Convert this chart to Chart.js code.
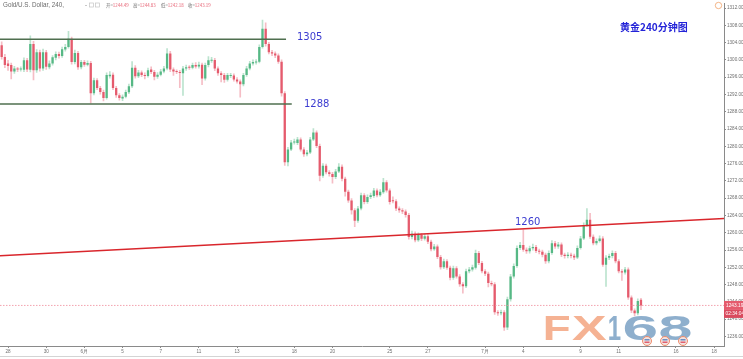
<!DOCTYPE html>
<html>
<head>
<meta charset="utf-8">
<title>Gold 240</title>
<script src="https://cdn.jsdelivr.net/npm/chart.js@4.4.0/dist/chart.umd.min.js"></script>
<style>
    body { margin: 0; background: #fff; }
    #wrap { width: 743px; height: 359px; }
</style>
</head>
<body>
<div id="wrap"><canvas id="gold-chart" width="743" height="359"></canvas></div>
<script>
// 4h candles, 28 May - 12 Jul 2018
const opens = [
    1303.4,1300.7,1299.2,1298.8,1297.3,1297.9,1297.8,1297.7,1299.9,1297.7,
    1303.7,1297.6,1301.8,1298.0,1301.8,1298.3,1299.2,1300.5,1301.4,1300.9,
    1302.4,1303.0,1304.9,1299.5,1301.6,1298.3,1299.5,1298.9,1299.3,1292.3,
    1295.3,1293.5,1292.6,1291.2,1296.2,1296.6,1293.5,1291.8,1291.1,1291.5,
    1292.5,1293.9,1298.2,1296.2,1297.1,1296.5,1296.3,1297.8,1297.2,1296.1,
    1296.6,1297.3,1298.0,1301.5,1297.8,1297.3,1297.2,1296.9,1298.0,1298.3,
    1298.2,1298.8,1298.5,1298.9,1295.7,1298.8,1299.8,1300.0,1298.0,1296.9,
    1296.5,1295.4,1296.3,1296.4,1295.5,1295.0,1294.4,1296.5,1298.0,1299.2,
    1299.4,1299.6,1303.0,1307.2,1303.7,1301.8,1301.5,1301.0,1299.6,1292.3,
    1276.3,1279.3,1280.9,1280.8,1281.6,1279.3,1278.2,1278.6,1281.6,1283.2,
    1280.1,1273.2,1275.5,1274.0,1273.6,1272.9,1274.2,1275.3,1272.5,1269.5,
    1267.5,1265.2,1262.8,1265.6,1268.7,1267.1,1268.3,1268.5,1269.8,1268.7,
    1269.4,1271.7,1269.8,1267.5,1267.3,1265.6,1265.2,1264.9,1264.1,1259.0,
    1259.8,1258.3,1259.5,1258.6,1259.2,1257.9,1256.2,1256.8,1254.4,1252.0,
    1253.4,1251.9,1249.6,1251.8,1249.9,1248.1,1247.6,1251.1,1251.5,1251.9,
    1255.3,1253.0,1251.1,1250.5,1248.4,1248.1,1241.6,1241.4,1241.6,1238.1,
    1244.6,1249.9,1252.3,1256.5,1257.2,1256.1,1255.7,1256.4,1256.7,1255.8,
    1255.6,1254.9,1253.4,1255.3,1257.6,1256.8,1257.3,1254.9,1254.6,1254.9,
    1254.7,1254.3,1256.5,1258.7,1261.8,1263.0,1259.1,1257.6,1258.1,1258.7,
    1252.6,1254.2,1254.6,1255.3,1253.4,1251.1,1250.8,1251.5,1245.0,1242.0,
    1241.4,1244.49
];
const closes = [
    1300.7,1298.8,1298.6,1297.3,1298.0,1297.8,1297.9,1299.9,1297.8,1303.7,
    1297.6,1301.8,1298.0,1301.8,1298.4,1299.2,1300.6,1301.4,1300.9,1302.5,
    1303.0,1304.9,1299.5,1301.6,1298.3,1299.5,1298.9,1299.3,1292.3,1295.3,
    1293.5,1292.6,1291.2,1296.5,1296.6,1293.5,1291.8,1291.2,1291.5,1292.6,
    1293.9,1298.2,1296.2,1297.1,1296.5,1296.3,1297.6,1297.2,1296.1,1296.6,
    1297.3,1298.0,1301.5,1297.8,1297.3,1297.2,1297.0,1298.0,1298.3,1298.2,
    1298.8,1298.5,1298.9,1295.7,1298.8,1299.9,1300.0,1298.0,1296.9,1296.5,
    1295.4,1296.5,1296.5,1295.5,1295.0,1294.4,1296.5,1298.0,1299.2,1299.5,
    1299.6,1303.0,1307.2,1303.7,1301.8,1301.5,1301.0,1299.6,1292.3,1276.3,
    1279.3,1280.9,1281.1,1281.6,1279.3,1278.2,1278.6,1281.6,1283.2,1280.1,
    1273.2,1275.5,1274.0,1273.6,1272.9,1274.2,1275.3,1272.5,1269.5,1267.5,
    1265.2,1262.8,1265.6,1268.7,1267.1,1268.3,1268.7,1269.8,1268.7,1269.5,
    1271.7,1269.8,1267.1,1267.3,1265.6,1265.2,1264.9,1264.1,1259.0,1259.8,
    1258.3,1259.5,1258.6,1259.2,1257.9,1256.2,1256.8,1254.4,1252.0,1253.4,
    1251.9,1249.6,1251.8,1249.9,1248.1,1247.6,1251.1,1251.5,1252.0,1255.3,
    1253.0,1251.1,1250.5,1248.4,1248.1,1241.6,1241.4,1241.6,1238.1,1244.6,
    1249.9,1252.3,1256.5,1257.2,1256.1,1255.7,1256.4,1256.7,1255.8,1255.6,
    1254.9,1253.4,1255.3,1257.6,1256.8,1257.3,1254.9,1254.6,1254.9,1254.7,
    1254.3,1256.5,1258.7,1261.8,1263.0,1259.1,1257.6,1258.1,1258.7,1252.6,
    1254.2,1254.6,1255.3,1253.4,1251.1,1250.8,1251.5,1245.0,1242.0,1241.4,
    1244.2,1243.19
];
const highs = [
    1304.2,1301.3,1299.9,1299.3,1298.5,1298.3,1298.4,1300.5,1300.4,1305.6,
    1304.3,1302.4,1302.3,1302.5,1302.2,1299.8,1301.0,1301.9,1301.8,1303.0,
    1303.6,1306.6,1305.3,1302.3,1302.0,1299.9,1299.9,1299.8,1299.7,1295.8,
    1295.7,1293.9,1293.0,1297.0,1297.3,1297.0,1293.9,1292.2,1291.9,1293.0,
    1294.4,1299.6,1298.7,1297.6,1297.5,1297.0,1298.1,1298.4,1297.6,1297.1,
    1297.8,1298.5,1302.6,1302.0,1298.2,1297.7,1297.6,1298.5,1298.8,1298.7,
    1299.3,1299.4,1299.5,1299.3,1299.3,1300.8,1300.6,1300.4,1298.4,1297.3,
    1296.9,1296.9,1296.9,1296.8,1295.9,1295.4,1296.9,1298.5,1299.7,1300.0,
    1300.1,1303.5,1309.2,1308.6,1304.1,1302.2,1301.9,1301.4,1300.0,1292.7,
    1279.8,1281.4,1281.7,1282.1,1282.0,1279.7,1279.1,1282.1,1284.1,1283.6,
    1280.5,1276.0,1275.9,1274.4,1274.0,1274.7,1276.0,1275.7,1272.9,1269.9,
    1267.9,1265.6,1266.1,1269.2,1269.1,1268.8,1269.2,1270.3,1270.2,1270.0,
    1272.6,1272.1,1270.2,1268.3,1267.7,1266.0,1265.6,1265.3,1264.5,1260.4,
    1260.2,1260.0,1259.9,1259.7,1259.6,1258.3,1257.3,1257.2,1254.8,1253.9,
    1253.8,1252.3,1252.3,1252.2,1250.3,1248.5,1251.6,1252.0,1252.5,1256.0,
    1255.7,1253.4,1251.5,1250.9,1248.8,1248.5,1242.0,1242.1,1242.0,1245.1,
    1250.4,1252.8,1257.0,1257.8,1260.7,1256.5,1256.9,1257.4,1257.1,1256.2,
    1256.0,1255.3,1255.8,1258.2,1258.0,1257.8,1257.7,1255.3,1255.4,1255.3,
    1255.1,1257.0,1259.2,1262.3,1265.6,1264.5,1259.5,1258.6,1259.3,1259.1,
    1254.7,1255.1,1255.8,1255.7,1253.8,1251.5,1252.0,1251.9,1245.4,1242.4,
    1244.7,1244.83
];
const lows = [
    1300.2,1298.2,1297.6,1295.6,1296.9,1297.3,1297.4,1297.3,1297.3,1297.2,
    1295.4,1297.1,1297.4,1297.6,1297.8,1297.9,1298.8,1300.0,1300.4,1300.6,
    1302.0,1302.7,1299.0,1299.1,1297.8,1297.9,1298.5,1298.6,1290.0,1291.9,
    1293.1,1292.1,1290.5,1290.9,1295.8,1293.1,1291.3,1290.7,1290.6,1291.2,
    1292.2,1293.6,1295.8,1295.9,1296.1,1295.6,1296.0,1296.8,1295.4,1295.7,
    1296.3,1297.0,1297.7,1297.3,1296.4,1296.8,1293.6,1291.8,1297.6,1297.8,
    1297.9,1298.1,1298.1,1294.3,1295.3,1298.4,1299.4,1297.5,1296.4,1294.9,
    1294.8,1295.1,1295.9,1295.1,1294.6,1291.4,1294.0,1296.2,1297.7,1298.8,
    1299.0,1299.3,1302.7,1303.2,1301.4,1301.0,1300.5,1299.2,1291.6,1275.6,
    1275.5,1279.0,1280.5,1280.4,1278.9,1277.7,1277.8,1278.3,1281.3,1279.7,
    1272.0,1272.8,1273.6,1273.1,1271.5,1272.5,1273.9,1272.0,1268.5,1267.0,
    1264.3,1261.4,1262.4,1265.3,1266.7,1266.8,1267.9,1268.2,1268.3,1268.4,
    1269.1,1269.4,1266.6,1266.9,1265.1,1264.7,1264.4,1263.6,1258.5,1258.6,
    1257.9,1258.0,1258.2,1258.3,1257.5,1255.8,1255.9,1254.0,1251.6,1251.7,
    1251.5,1249.1,1249.2,1249.5,1247.6,1246.0,1247.3,1250.7,1251.1,1251.6,
    1252.6,1250.7,1250.1,1247.5,1247.7,1241.1,1240.9,1241.0,1237.4,1237.6,
    1244.2,1249.5,1252.0,1256.1,1255.7,1255.2,1255.3,1256.0,1255.4,1255.1,
    1254.4,1252.9,1253.0,1255.0,1256.4,1256.4,1254.5,1254.1,1254.2,1254.2,
    1253.8,1254.0,1256.2,1258.4,1261.5,1258.7,1257.2,1257.2,1257.8,1252.2,
    1247.6,1253.8,1254.2,1253.0,1250.7,1249.0,1250.4,1244.6,1241.5,1240.8,
    1241.0,1242.18
];

// date labels on the time axis and the bar they sit on
const xTickLabels = ["28", "30", "6月", "5", "7", "11", "13", "18", "20", "25", "27", "7月", "4", "9", "11", "16", "18"];
const xTickBars = [2, 14, 26, 38, 50, 62, 74, 92, 104, 122, 134, 152, 164, 182, 194, 212, 224];
const yTicks = [1236, 1240, 1244, 1248, 1252, 1256, 1260, 1264, 1268, 1272, 1276, 1280, 1284, 1288, 1292, 1296, 1300, 1304, 1308, 1312];

// drawn lines: range box, trend line, last price
const boxLevels = [1304.8, 1289.8];
const boxEnds = [89.4, 91.2];
const trendX = [-0.53, 227.1];
const trendY = [1254.7, 1263.3];
const lastPrice = 1243.19;

const UP = "#56b885";
const DOWN = "#e55b6d";
const UP_WICK = "rgba(86, 184, 133, 0.4)";
const DOWN_WICK = "rgba(229, 91, 109, 0.4)";

document.addEventListener("DOMContentLoaded", function () {
    const isUp = i => closes[i] >= opens[i];

    const bodies = opens.map((o, i) => ({ x: i, y: [o, closes[i]] }));
    const wicks = opens.map((o, i) => ({ x: i, y: [lows[i], highs[i]] }));

    // draw a glyph so its ink fills the box l..r, t..b
    function fitInk(ctx, text, l, r, t, b) {
        const m = ctx.measureText(text);
        const sx = (r - l) / (m.actualBoundingBoxLeft + m.actualBoundingBoxRight);
        const sy = (b - t) / (m.actualBoundingBoxAscent + m.actualBoundingBoxDescent);
        ctx.save();
        ctx.textAlign = "left";
        ctx.textBaseline = "alphabetic";
        ctx.translate(l + m.actualBoundingBoxLeft * sx, t + m.actualBoundingBoxAscent * sy);
        ctx.scale(sx, sy);
        ctx.fillText(text, 0, 0);
        ctx.restore();
    }

    const overlay = {
        id: "overlay",
        afterDraw(chart) {
            const ctx = chart.ctx;
            const ys = chart.scales.y;
            ctx.save();
            ctx.textAlign = "left";

            // header
            ctx.textBaseline = "middle";
            ctx.font = '6.3px "Liberation Sans"';
            ctx.fillStyle = "#6b6b6b";
            ctx.fillText("Gold/U.S. Dollar, 240,", 3, 5.5);
            ctx.fillStyle = "#bbb";
            ctx.fillRect(85, 5, 2, 0.8);
            ctx.strokeStyle = "#c4c4c4";
            ctx.lineWidth = 0.7;
            ctx.strokeRect(89.5, 3, 4, 4);
            ctx.strokeRect(95.5, 3, 4, 4);
            ctx.font = '4.4px "Noto Sans CJK SC"';
            const ohlc = [["开=", "1244.49", 106], ["高=", "1244.83", 133], ["低=", "1242.18", 161], ["收=", "1243.19", 188]];
            ohlc.forEach(function (g) {
                ctx.fillStyle = "#6b6b6b";
                ctx.fillText(g[0], g[2], 5.5);
                ctx.fillStyle = DOWN;
                ctx.fillText(g[1], g[2] + ctx.measureText(g[0]).width, 5.5);
            });

            // clock icon
            ctx.strokeStyle = "#f0a36a";
            ctx.lineWidth = 0.8;
            ctx.beginPath();
            ctx.arc(718.5, 5.5, 3.2, 0, Math.PI * 2);
            ctx.stroke();

            // title
            ctx.font = 'bold 10px "Noto Sans CJK SC"';
            ctx.fillStyle = "#2323d8";
            ctx.fillText("黄金240分钟图", 620, 27.5);

            // level labels
            ctx.textBaseline = "alphabetic";
            ctx.font = '10px "DejaVu Sans"';
            ctx.fillStyle = "#3b3bd0";
            ctx.fillText("1305", 297, 39.5);
            ctx.fillText("1288", 304, 106.5);
            ctx.fillText("1260", 515, 224.5);

            // watermark
            ctx.font = 'bold 40px "Liberation Sans"';
            ctx.fillStyle = "rgba(243, 165, 128, 0.85)";
            fitInk(ctx, "F", 545, 569, 315, 340);
            fitInk(ctx, "X", 572, 607, 315, 340);
            ctx.fillStyle = "rgba(122, 161, 196, 0.85)";
            fitInk(ctx, "1", 609, 621, 315, 340);
            fitInk(ctx, "6", 624, 656, 315, 340);
            fitInk(ctx, "8", 660, 692, 315, 340);
            [647, 665, 683].forEach(function (cx) {
                ctx.fillStyle = "#f3e2de";
                ctx.strokeStyle = "#ef8a6a";
                ctx.lineWidth = 1;
                ctx.beginPath();
                ctx.arc(cx, 341, 4.5, 0, Math.PI * 2);
                ctx.fill();
                ctx.stroke();
                ctx.fillStyle = "#6d8fc4";
                ctx.fillRect(cx - 2.5, 339, 5, 1.5);
                ctx.fillStyle = "#e06070";
                ctx.fillRect(cx - 2.5, 341.5, 5, 1.5);
            });

            // last price tag
            const py = ys.getPixelForValue(lastPrice);
            ctx.fillStyle = DOWN;
            ctx.fillRect(724, py - 4.5, 19, 9);
            ctx.fillStyle = "#d94a5e";
            ctx.fillRect(724, py + 4.5, 19, 8);
            ctx.fillStyle = "#fff";
            ctx.font = '4.8px "Liberation Sans"';
            ctx.textBaseline = "middle";
            ctx.fillText(lastPrice.toFixed(2), 726, py);
            ctx.fillText("02:34:04", 725.5, py + 8.5);

            // frame bottom line
            ctx.fillStyle = "#d4d4d4";
            ctx.fillRect(0, 356, 743, 1);
            ctx.restore();
        }
    };

    const lineSet = (pts, color, width, dash) => ({
        type: "line",
        data: pts,
        borderColor: color,
        borderWidth: width,
        borderDash: dash || [],
        pointRadius: 0,
        fill: false,
        order: 0
    });

    const ctx = document.getElementById("gold-chart").getContext("2d");
    new Chart(ctx, {
        type: "bar",
        data: {
            datasets: [
                {
                    data: wicks,
                    backgroundColor: c => isUp(c.dataIndex) ? UP_WICK : DOWN_WICK,
                    barThickness: 1,
                    grouped: false,
                    order: 2
                },
                {
                    data: bodies,
                    backgroundColor: c => isUp(c.dataIndex) ? UP : DOWN,
                    barPercentage: 0.72,
                    categoryPercentage: 1,
                    minBarLength: 1,
                    grouped: false,
                    order: 1
                },
                lineSet([{ x: trendX[0], y: lastPrice }, { x: trendX[1], y: lastPrice }], "#f08c9a", 0.8, [1.5, 1.5]),
                lineSet([{ x: trendX[0], y: boxLevels[0] }, { x: boxEnds[0], y: boxLevels[0] }], "#4f6f4f", 1.6),
                lineSet([{ x: trendX[0], y: boxLevels[1] }, { x: boxEnds[1], y: boxLevels[1] }], "#4f6f4f", 1.6),
                lineSet([{ x: trendX[0], y: trendY[0] }, { x: trendX[1], y: trendY[1] }], "#d9262c", 1.4)
            ]
        },
        options: {
            responsive: false,
            animation: false,
            devicePixelRatio: 1,
            layout: { padding: 0 },
            plugins: {
                legend: { display: false },
                tooltip: { enabled: false }
            },
            scales: {
                x: {
                    type: "linear",
                    min: trendX[0],
                    max: trendX[1],
                    offset: false,
                    bounds: "data",
                    afterBuildTicks: s => { s.ticks = xTickBars.map(v => ({ value: v })); },
                    afterFit: s => { s.height = 13; },
                    ticks: {
                        callback: (v, i) => xTickLabels[i],
                        autoSkip: false,
                        maxRotation: 0,
                        padding: 1,
                        color: "#6f6f6f",
                        font: { family: "Liberation Sans", size: 4.6 }
                    },
                    grid: { display: true, drawOnChartArea: false, tickLength: 2, color: "#8a8a8a", offset: false },
                    border: { display: true, color: "#8a8a8a" }
                },
                y: {
                    type: "linear",
                    position: "right",
                    min: 1233.8,
                    max: 1313.0,
                    bounds: "data",
                    afterBuildTicks: s => { s.ticks = yTicks.map(v => ({ value: v })); },
                    afterFit: s => { s.width = 19; },
                    ticks: {
                        callback: v => v.toFixed(2),
                        padding: 1,
                        color: "#6f6f6f",
                        font: { family: "Liberation Sans", size: 4.6 }
                    },
                    grid: { display: true, drawOnChartArea: false, tickLength: 2, color: "#8a8a8a" },
                    border: { display: true, color: "#8a8a8a" }
                }
            }
        },
        plugins: [overlay]
    });
});
</script>
</body>
</html>
